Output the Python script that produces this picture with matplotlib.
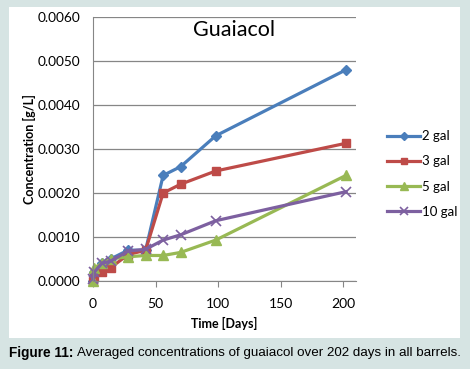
import matplotlib
matplotlib.use("Agg")
import matplotlib.pyplot as plt
from matplotlib.patches import Rectangle

# Sampling days and averaged guaiacol concentrations (g/L) per barrel size
days = [0, 1, 7, 14, 28, 42, 56, 70, 98, 202]
gal_2 = [0.0000, 0.0002, 0.0004, 0.0005, 0.0007, 0.0007, 0.0024, 0.0026, 0.0033, 0.0048]
gal_3 = [0.0000, 0.0001, 0.0002, 0.0003, 0.0006, 0.0007, 0.0020, 0.0022, 0.0025, 0.00313]
gal_5 = [0.0000, 0.0003, 0.0004, 0.0005, 0.00055, 0.00058, 0.00058, 0.00065, 0.00093, 0.0024]
gal_10 = [0.00005, 0.0002, 0.0004, 0.00045, 0.00068, 0.00072, 0.00093, 0.00105, 0.00137, 0.00203]

series_labels = ["2 gal", "3 gal", "5 gal", "10 gal"]
y_ticks = [0.0, 0.001, 0.002, 0.003, 0.004, 0.005, 0.006]
x_ticks = [0, 50, 100, 150, 200]

FONT = "Lato"

fig = plt.figure(figsize=(4.7, 3.69), dpi=100)
fig.patch.set_facecolor("#d6e4e3")
fig.patches.append(Rectangle((9 / 470, 1 - 338 / 369), 451 / 470, 331 / 369,
                             transform=fig.transFigure, facecolor="white",
                             edgecolor="none", zorder=-1))

ax = fig.add_axes([93 / 470, 1 - 281 / 369, 263 / 470, 264 / 369])
ax.set_facecolor("none")
ax.set_zorder(2)

styles = [
    dict(color="#4a7ebb", marker="D", markersize=5),
    dict(color="#be4b48", marker="s", markersize=6),
    dict(color="#98b954", marker="^", markersize=7),
    dict(color="#7d60a0", marker="x", markersize=7, markeredgewidth=1.2),
]
for values, label, st in zip([gal_2, gal_3, gal_5, gal_10], series_labels, styles):
    ax.plot(days, values, linewidth=2.3, label=label, clip_on=False, **st)

ax.set_xlim(0, 210)
ax.set_ylim(0, 0.006)
ax.set_xticks(x_ticks)
ax.set_yticks(y_ticks)
ax.set_yticklabels([f"{v:.4f}" for v in y_ticks])
ax.grid(axis="y", color="#868686", linewidth=0.9)
ax.set_axisbelow(True)
for side in ["top", "right"]:
    ax.spines[side].set_visible(False)
for side in ["left", "bottom"]:
    ax.spines[side].set_color("#868686")
ax.tick_params(axis="y", length=0, pad=9, labelsize=9.8)
ax.tick_params(axis="x", length=4, color="#868686", pad=8, labelsize=10)
for lbl in ax.get_xticklabels() + ax.get_yticklabels():
    lbl.set_fontfamily(FONT)

ax.set_xlabel("Time [Days]", fontfamily=FONT, fontweight="bold", fontsize=9, labelpad=5)
ax.set_ylabel("Concentration [g/L]", fontfamily=FONT, fontweight="bold", fontsize=9, labelpad=1)
ax.text(0.538, 0.99, "Guaiacol", transform=ax.transAxes, ha="center", va="top",
        fontfamily=FONT, fontsize=15.5)

fig.legend(loc="upper left", bbox_to_anchor=(382 / 470, 1 - 125 / 369), frameon=False,
           prop={"family": FONT, "size": 9.5}, handlelength=2.5, labelspacing=1.0,
           handletextpad=0.1, borderaxespad=0, markerscale=0.8)

fig.text(9 / 470, 1 - 353 / 369, "Figure 11:", fontfamily="Liberation Sans",
         fontweight="bold", fontsize=9.8, va="center")
fig.text(77 / 470, 1 - 353 / 369, "Averaged concentrations of guaiacol over 202 days in all barrels.",
         fontfamily="Liberation Sans", fontsize=9.6, va="center")

fig.savefig("out.png", dpi=100, facecolor=fig.get_facecolor())
